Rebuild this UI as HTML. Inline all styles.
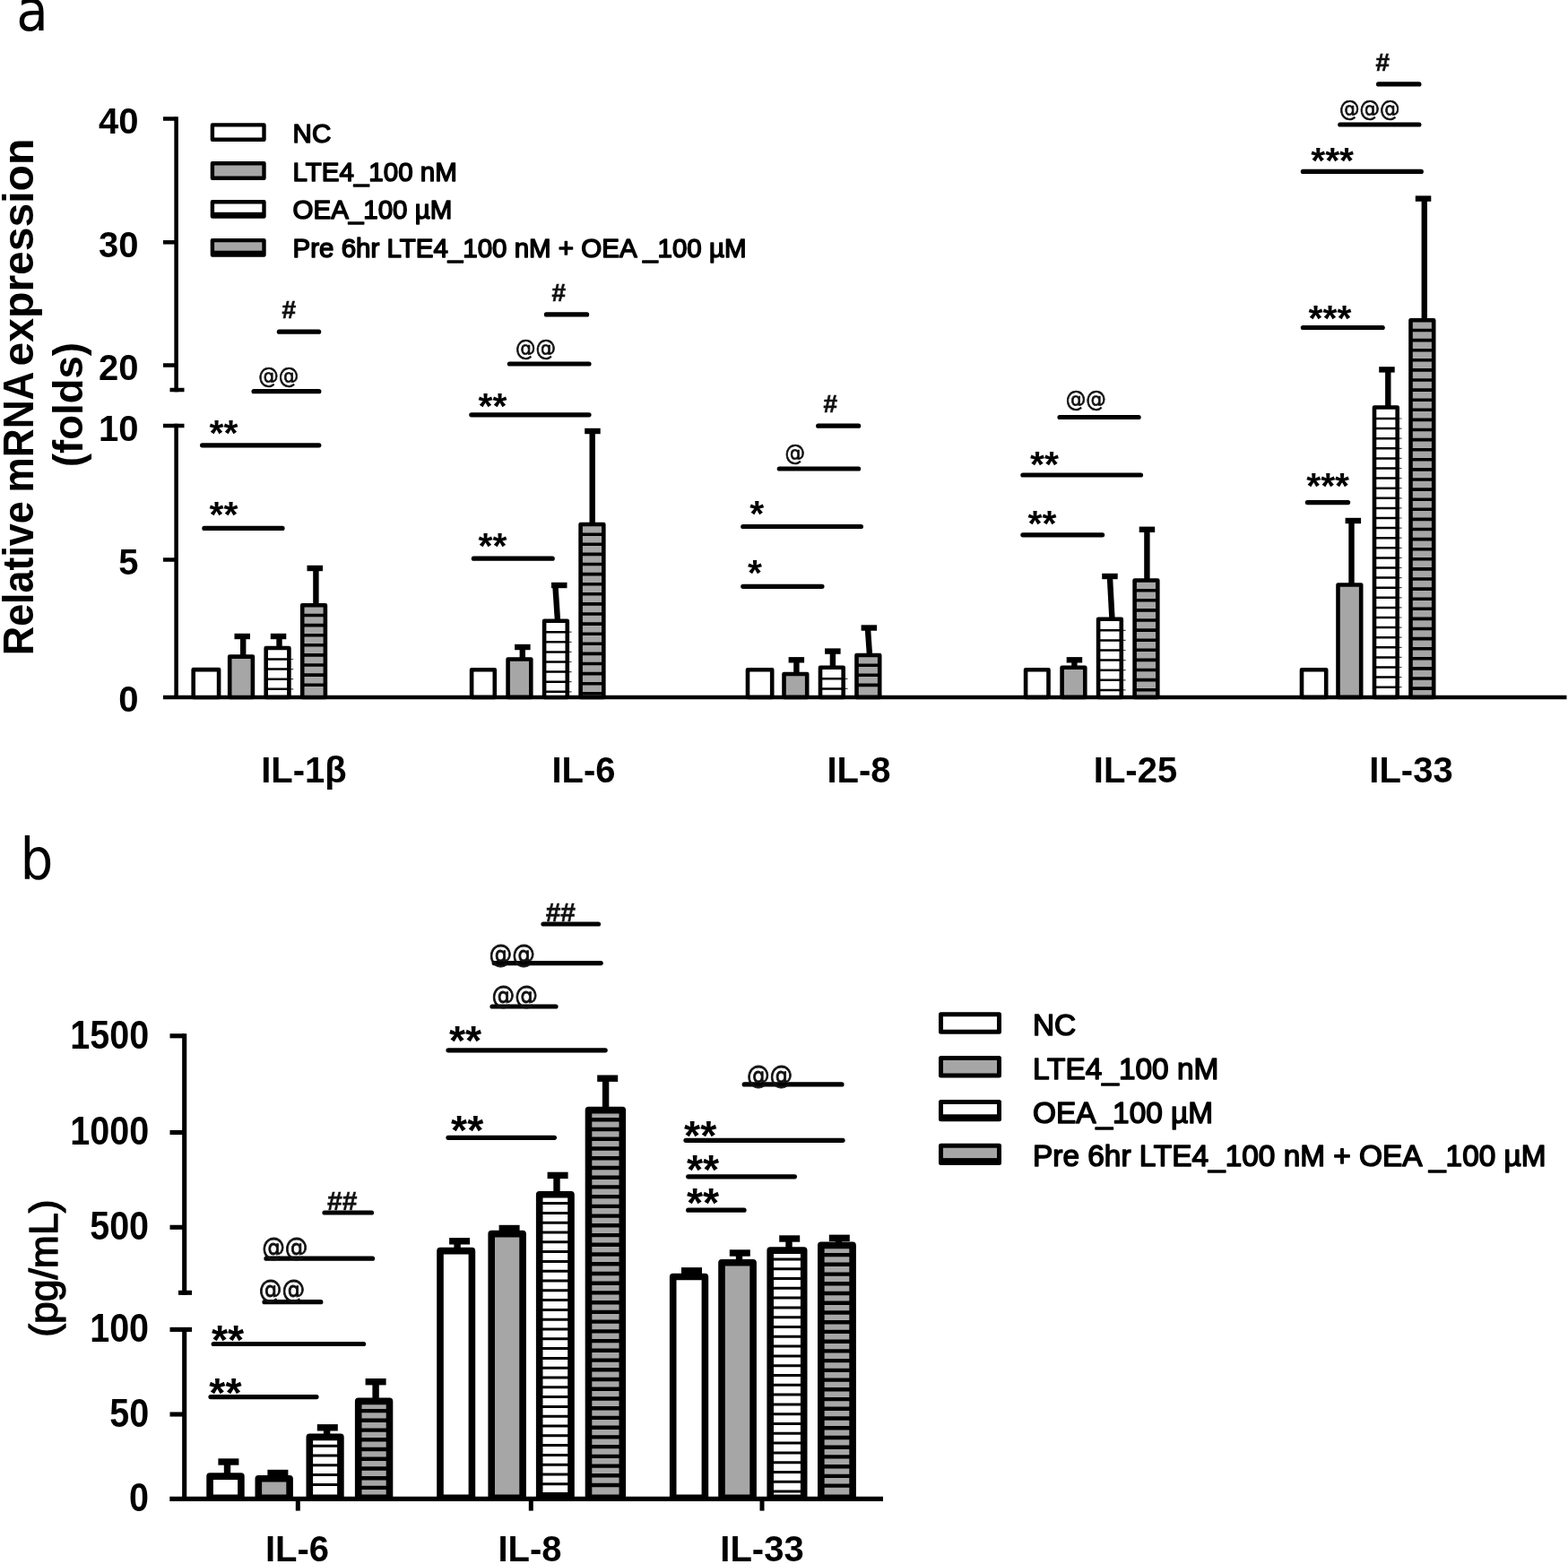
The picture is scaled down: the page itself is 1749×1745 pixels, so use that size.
<!DOCTYPE html>
<html lang="en"><head><meta charset="utf-8"><title>Figure</title>
<style>html,body{margin:0;padding:0;background:#fff;overflow:hidden}svg{display:block;filter:blur(0.7px)}</style></head>
<body>
<svg width="1749" height="1745" viewBox="0 0 1749 1745" font-family="'Liberation Sans', sans-serif" font-weight="bold" fill="#000" stroke="none">
<rect width="1749" height="1745" fill="#fff"/>
<text x="18.3" y="34" font-size="64.5" font-weight="normal" font-family="'DejaVu Sans Condensed', 'DejaVu Sans', sans-serif">a</text>
<text x="22.6" y="981.4" font-size="64.5" font-weight="normal" font-family="'DejaVu Sans Condensed', 'DejaVu Sans', sans-serif">b</text>
<g id="panel-a" stroke="#000">
<line x1="196.6" y1="130.2" x2="196.6" y2="437.2" stroke-width="4.5"/>
<line x1="196.6" y1="472.8" x2="196.6" y2="778" stroke-width="4.5"/>
<line x1="182" y1="778" x2="1747.5" y2="778" stroke-width="4.5"/>
<line x1="182" y1="132.5" x2="196.6" y2="132.5" stroke-width="4.5"/>
<line x1="182" y1="270.3" x2="196.6" y2="270.3" stroke-width="4.5"/>
<line x1="182" y1="407.5" x2="196.6" y2="407.5" stroke-width="4.5"/>
<line x1="182" y1="624.5" x2="196.6" y2="624.5" stroke-width="4.5"/>
<line x1="189.5" y1="435" x2="205.5" y2="435" stroke-width="4.5"/>
<line x1="182" y1="475" x2="205.5" y2="475" stroke-width="4.5"/>
</g>
<text x="154.5" y="149" font-size="40" text-anchor="end">40</text>
<text x="154.5" y="286.8" font-size="40" text-anchor="end">30</text>
<text x="154.5" y="424" font-size="40" text-anchor="end">20</text>
<text x="154.5" y="491.5" font-size="40" text-anchor="end">10</text>
<text x="154.5" y="641" font-size="40" text-anchor="end">5</text>
<text x="154.5" y="794" font-size="40" text-anchor="end">0</text>
<text transform="translate(36.9,731.2) rotate(-90) scale(0.934,1)" font-size="48">Relative</text>
<text transform="translate(36.9,549.5) rotate(-90) scale(0.920,1)" font-size="48">mRNA</text>
<text transform="translate(36.9,408.4) rotate(-90) scale(1.001,1)" font-size="48">expression</text>
<text transform="translate(92.4,451.6) rotate(-90)" font-size="45.5" text-anchor="middle">(folds)</text>
<rect x="236.9" y="139.4" width="57.6" height="16.4" fill="#fff" stroke="#000" stroke-width="4.4" stroke-linejoin="round"/>
<text x="326.6" y="158.6" font-size="29.5" font-weight="normal" word-spacing="0" stroke="#000" stroke-width="1.5" stroke-linejoin="round">NC</text>
<rect x="236.9" y="182.3" width="57.6" height="16.4" fill="#a6a6a6" stroke="#000" stroke-width="4.4" stroke-linejoin="round"/>
<text x="326.6" y="201.5" font-size="29.5" font-weight="normal" word-spacing="0" stroke="#000" stroke-width="1.5" stroke-linejoin="round">LTE4_100 nM</text>
<rect x="236.9" y="225.2" width="57.6" height="16.4" fill="#fff" stroke="#000" stroke-width="4.4" stroke-linejoin="round"/>
<rect x="236.9" y="236.8" width="57.6" height="4.8"/>
<text x="326.6" y="244.4" font-size="29.5" font-weight="normal" word-spacing="0" stroke="#000" stroke-width="1.5" stroke-linejoin="round">OEA_100 µM</text>
<rect x="236.9" y="268.1" width="57.6" height="16.4" fill="#a6a6a6" stroke="#000" stroke-width="4.4" stroke-linejoin="round"/>
<rect x="236.9" y="279.7" width="57.6" height="4.8"/>
<text x="326.6" y="287.3" font-size="29.5" font-weight="normal" word-spacing="0" stroke="#000" stroke-width="1.5" stroke-linejoin="round">Pre 6hr LTE4_100 nM + OEA _100 µM</text>
<g id="bars-a" stroke="#000">
<rect x="215.7" y="747.1" width="28.4" height="30.9" fill="#fff" stroke-width="4.6" stroke-linejoin="round"/>
<line x1="271.2" y1="731.3" x2="271.2" y2="710" stroke-width="6.4"/>
<line x1="261.5" y1="710" x2="279" y2="710" stroke-width="6.4"/>
<rect x="256.2" y="732.6" width="25.7" height="45.4" fill="#a6a6a6" stroke-width="4.6" stroke-linejoin="round"/>
<line x1="311.5" y1="721.7" x2="311.5" y2="710" stroke-width="6.4"/>
<line x1="301.8" y1="710" x2="319.3" y2="710" stroke-width="6.4"/>
<path d="M296.7 735.5H327.2M296.7 746.6H327.2M296.7 757.7H327.2M296.7 768.8H327.2" stroke-width="1.2" stroke="#444" fill="none"/>
<rect x="296.7" y="723" width="25.7" height="54.9" fill="#fff" stroke-width="4.6" stroke-linejoin="round"/>
<path d="M296.7 735.5H322.4M296.7 746.6H322.4M296.7 757.7H322.4M296.7 768.8H322.4" stroke-width="2.5" fill="none"/>
<line x1="352.4" y1="674" x2="352.4" y2="634" stroke-width="6.4"/>
<line x1="342.5" y1="634" x2="360" y2="634" stroke-width="6.4"/>
<rect x="337.2" y="675.3" width="25.7" height="102.7" fill="#a6a6a6" stroke-width="4.6" stroke-linejoin="round"/>
<path d="M337.2 686.5H362.9M337.2 697.6H362.9M337.2 708.7H362.9M337.2 719.8H362.9M337.2 730.9H362.9M337.2 742H362.9M337.2 753.1H362.9M337.2 764.2H362.9" stroke-width="3.6" fill="none"/>
<rect x="526.1" y="747.3" width="25.7" height="30.6" fill="#fff" stroke-width="4.6" stroke-linejoin="round"/>
<line x1="582.8" y1="734.2" x2="582.8" y2="722" stroke-width="6.4"/>
<line x1="574.1" y1="722" x2="591.6" y2="722" stroke-width="6.4"/>
<rect x="566.6" y="735.5" width="25.7" height="42.4" fill="#a6a6a6" stroke-width="4.6" stroke-linejoin="round"/>
<line x1="621.9" y1="691.4" x2="619.4" y2="653" stroke-width="6.4"/>
<line x1="615" y1="653" x2="632.5" y2="653" stroke-width="6.4"/>
<path d="M607.1 705.2H637.6M607.1 716.3H637.6M607.1 727.4H637.6M607.1 738.5H637.6M607.1 749.6H637.6M607.1 760.7H637.6M607.1 771.8H637.6" stroke-width="1.2" stroke="#444" fill="none"/>
<rect x="607.1" y="692.7" width="25.7" height="85.3" fill="#fff" stroke-width="4.6" stroke-linejoin="round"/>
<path d="M607.1 705.2H632.8M607.1 716.3H632.8M607.1 727.4H632.8M607.1 738.5H632.8M607.1 749.6H632.8M607.1 760.7H632.8M607.1 771.8H632.8" stroke-width="2.5" fill="none"/>
<line x1="660.7" y1="583.7" x2="660.7" y2="481" stroke-width="6.4"/>
<line x1="652.2" y1="481" x2="669.7" y2="481" stroke-width="6.4"/>
<rect x="647.6" y="585" width="25.7" height="192.9" fill="#a6a6a6" stroke-width="4.6" stroke-linejoin="round"/>
<path d="M647.6 596.2H673.3M647.6 607.3H673.3M647.6 618.4H673.3M647.6 629.5H673.3M647.6 640.6H673.3M647.6 651.7H673.3M647.6 662.8H673.3M647.6 673.9H673.3M647.6 685H673.3M647.6 696.1H673.3M647.6 707.2H673.3M647.6 718.3H673.3M647.6 729.4H673.3M647.6 740.5H673.3M647.6 751.6H673.3M647.6 762.7H673.3M647.6 773.8H673.3" stroke-width="3.6" fill="none"/>
<rect x="834" y="747.3" width="27.2" height="30.6" fill="#fff" stroke-width="4.6" stroke-linejoin="round"/>
<line x1="888.4" y1="750.7" x2="888.4" y2="736.3" stroke-width="6.4"/>
<line x1="879.6" y1="736.3" x2="897.1" y2="736.3" stroke-width="6.4"/>
<rect x="874.5" y="752" width="25.7" height="25.9" fill="#a6a6a6" stroke-width="4.6" stroke-linejoin="round"/>
<line x1="928.9" y1="743.5" x2="928.9" y2="726.6" stroke-width="6.4"/>
<line x1="920.1" y1="726.6" x2="937.6" y2="726.6" stroke-width="6.4"/>
<path d="M915 757.3H945.5M915 768.4H945.5" stroke-width="1.2" stroke="#444" fill="none"/>
<rect x="915" y="744.8" width="25.7" height="33.1" fill="#fff" stroke-width="4.6" stroke-linejoin="round"/>
<path d="M915 757.3H940.7M915 768.4H940.7" stroke-width="2.5" fill="none"/>
<line x1="969.9" y1="729.7" x2="967.9" y2="700.5" stroke-width="6.4"/>
<line x1="960.6" y1="700.5" x2="978.1" y2="700.5" stroke-width="6.4"/>
<rect x="955.5" y="731" width="25.7" height="46.9" fill="#a6a6a6" stroke-width="4.6" stroke-linejoin="round"/>
<path d="M955.5 742.2H981.2M955.5 753.3H981.2M955.5 764.4H981.2" stroke-width="3.6" fill="none"/>
<rect x="1144.1" y="747.3" width="25.4" height="30.6" fill="#fff" stroke-width="4.6" stroke-linejoin="round"/>
<line x1="1198.4" y1="743.5" x2="1198.4" y2="736.3" stroke-width="6.4"/>
<line x1="1189.7" y1="736.3" x2="1207.2" y2="736.3" stroke-width="6.4"/>
<rect x="1184.6" y="744.8" width="25.7" height="33.1" fill="#a6a6a6" stroke-width="4.6" stroke-linejoin="round"/>
<line x1="1240.4" y1="689.5" x2="1237.9" y2="643" stroke-width="6.4"/>
<line x1="1229.2" y1="643" x2="1246.7" y2="643" stroke-width="6.4"/>
<path d="M1225.1 703.3H1255.6M1225.1 714.4H1255.6M1225.1 725.5H1255.6M1225.1 736.6H1255.6M1225.1 747.7H1255.6M1225.1 758.8H1255.6M1225.1 769.9H1255.6" stroke-width="1.2" stroke="#444" fill="none"/>
<rect x="1225.1" y="690.8" width="25.7" height="87.2" fill="#fff" stroke-width="4.6" stroke-linejoin="round"/>
<path d="M1225.1 703.3H1250.8M1225.1 714.4H1250.8M1225.1 725.5H1250.8M1225.1 736.6H1250.8M1225.1 747.7H1250.8M1225.1 758.8H1250.8M1225.1 769.9H1250.8" stroke-width="2.5" fill="none"/>
<line x1="1279.4" y1="646.2" x2="1279.4" y2="590.8" stroke-width="6.4"/>
<line x1="1270.7" y1="590.8" x2="1288.2" y2="590.8" stroke-width="6.4"/>
<rect x="1265.6" y="647.5" width="25.7" height="130.4" fill="#a6a6a6" stroke-width="4.6" stroke-linejoin="round"/>
<path d="M1265.6 658.7H1291.3M1265.6 669.8H1291.3M1265.6 680.9H1291.3M1265.6 692H1291.3M1265.6 703.1H1291.3M1265.6 714.2H1291.3M1265.6 725.3H1291.3M1265.6 736.4H1291.3M1265.6 747.5H1291.3M1265.6 758.6H1291.3M1265.6 769.7H1291.3" stroke-width="3.6" fill="none"/>
<rect x="1452" y="747.3" width="27.2" height="30.6" fill="#fff" stroke-width="4.6" stroke-linejoin="round"/>
<line x1="1507.5" y1="651.2" x2="1507.5" y2="581" stroke-width="6.4"/>
<line x1="1500.6" y1="581" x2="1518.1" y2="581" stroke-width="6.4"/>
<rect x="1492.5" y="652.5" width="25.7" height="125.4" fill="#a6a6a6" stroke-width="4.6" stroke-linejoin="round"/>
<line x1="1548.3" y1="453.2" x2="1548.3" y2="412.4" stroke-width="6.4"/>
<line x1="1538.2" y1="412.4" x2="1555.7" y2="412.4" stroke-width="6.4"/>
<path d="M1533 467H1563.5M1533 478.1H1563.5M1533 489.2H1563.5M1533 500.3H1563.5M1533 511.4H1563.5M1533 522.5H1563.5M1533 533.6H1563.5M1533 544.7H1563.5M1533 555.8H1563.5M1533 566.9H1563.5M1533 578H1563.5M1533 589.1H1563.5M1533 600.2H1563.5M1533 611.3H1563.5M1533 622.4H1563.5M1533 633.5H1563.5M1533 644.6H1563.5M1533 655.7H1563.5M1533 666.8H1563.5M1533 677.9H1563.5M1533 689H1563.5M1533 700.1H1563.5M1533 711.2H1563.5M1533 722.3H1563.5M1533 733.4H1563.5M1533 744.5H1563.5M1533 755.6H1563.5M1533 766.7H1563.5" stroke-width="1.2" stroke="#444" fill="none"/>
<rect x="1533" y="454.5" width="25.7" height="323.4" fill="#fff" stroke-width="4.6" stroke-linejoin="round"/>
<path d="M1533 467H1558.7M1533 478.1H1558.7M1533 489.2H1558.7M1533 500.3H1558.7M1533 511.4H1558.7M1533 522.5H1558.7M1533 533.6H1558.7M1533 544.7H1558.7M1533 555.8H1558.7M1533 566.9H1558.7M1533 578H1558.7M1533 589.1H1558.7M1533 600.2H1558.7M1533 611.3H1558.7M1533 622.4H1558.7M1533 633.5H1558.7M1533 644.6H1558.7M1533 655.7H1558.7M1533 666.8H1558.7M1533 677.9H1558.7M1533 689H1558.7M1533 700.1H1558.7M1533 711.2H1558.7M1533 722.3H1558.7M1533 733.4H1558.7M1533 744.5H1558.7M1533 755.6H1558.7M1533 766.7H1558.7" stroke-width="2.5" fill="none"/>
<line x1="1588.8" y1="356" x2="1588.8" y2="221.6" stroke-width="6.4"/>
<line x1="1578.8" y1="221.6" x2="1596.3" y2="221.6" stroke-width="6.4"/>
<rect x="1573.5" y="357.3" width="25.7" height="420.6" fill="#a6a6a6" stroke-width="4.6" stroke-linejoin="round"/>
<path d="M1573.5 368.5H1599.2M1573.5 379.6H1599.2M1573.5 390.7H1599.2M1573.5 401.8H1599.2M1573.5 412.9H1599.2M1573.5 424H1599.2M1573.5 435.1H1599.2M1573.5 446.2H1599.2M1573.5 457.3H1599.2M1573.5 468.4H1599.2M1573.5 479.5H1599.2M1573.5 490.6H1599.2M1573.5 501.7H1599.2M1573.5 512.8H1599.2M1573.5 523.9H1599.2M1573.5 535H1599.2M1573.5 546.1H1599.2M1573.5 557.2H1599.2M1573.5 568.3H1599.2M1573.5 579.4H1599.2M1573.5 590.5H1599.2M1573.5 601.6H1599.2M1573.5 612.7H1599.2M1573.5 623.8H1599.2M1573.5 634.9H1599.2M1573.5 646H1599.2M1573.5 657.1H1599.2M1573.5 668.2H1599.2M1573.5 679.3H1599.2M1573.5 690.4H1599.2M1573.5 701.5H1599.2M1573.5 712.6H1599.2M1573.5 723.7H1599.2M1573.5 734.8H1599.2M1573.5 745.9H1599.2M1573.5 757H1599.2M1573.5 768.1H1599.2" stroke-width="3.6" fill="none"/>
</g>
<text x="339" y="873.2" font-size="40" text-anchor="middle">IL-1β</text>
<text x="651" y="873.2" font-size="40" text-anchor="middle">IL-6</text>
<text x="958" y="873.2" font-size="40" text-anchor="middle">IL-8</text>
<text x="1266.5" y="873.2" font-size="40" text-anchor="middle">IL-25</text>
<text x="1574" y="873.2" font-size="40" text-anchor="middle">IL-33</text>
<line x1="311.4" y1="370.2" x2="355.6" y2="370.2" stroke="#000" stroke-width="5.2" stroke-linecap="round"/>
<text x="314.5" y="355" font-size="28" fill="#111" stroke="#111" stroke-width="0.7">#</text>
<line x1="283.1" y1="436.7" x2="355.8" y2="436.7" stroke="#000" stroke-width="5.2" stroke-linecap="round"/>
<text x="288.3" y="427.7" font-size="25" font-weight="normal" fill="#111" font-family="'DejaVu Sans Condensed', 'DejaVu Sans', sans-serif" stroke="#111" stroke-width="0.7">@@</text>
<line x1="225.6" y1="496.8" x2="355.8" y2="496.8" stroke="#000" stroke-width="5.2" stroke-linecap="round"/>
<text x="233.5" y="496.6" font-size="41">**</text>
<line x1="227.9" y1="589.4" x2="315" y2="589.4" stroke="#000" stroke-width="5.2" stroke-linecap="round"/>
<text x="233.5" y="588.4" font-size="41">**</text>
<line x1="609.4" y1="350.9" x2="654.6" y2="350.9" stroke="#000" stroke-width="5.2" stroke-linecap="round"/>
<text x="615.5" y="335.7" font-size="28" fill="#111" stroke="#111" stroke-width="0.7">#</text>
<line x1="568.4" y1="406" x2="657" y2="406" stroke="#000" stroke-width="5.2" stroke-linecap="round"/>
<text x="575" y="397" font-size="25" font-weight="normal" fill="#111" font-family="'DejaVu Sans Condensed', 'DejaVu Sans', sans-serif" stroke="#111" stroke-width="0.7">@@</text>
<line x1="525.8" y1="462.8" x2="657" y2="462.8" stroke="#000" stroke-width="5.2" stroke-linecap="round"/>
<text x="533.6" y="467" font-size="41">**</text>
<line x1="528.4" y1="623.2" x2="616.2" y2="623.2" stroke="#000" stroke-width="5.2" stroke-linecap="round"/>
<text x="533.6" y="622.6" font-size="41">**</text>
<line x1="912.7" y1="475.2" x2="957.6" y2="475.2" stroke="#000" stroke-width="5.2" stroke-linecap="round"/>
<text x="918.5" y="460" font-size="28" fill="#111" stroke="#111" stroke-width="0.7">#</text>
<line x1="869.3" y1="523" x2="957.6" y2="523" stroke="#000" stroke-width="5.2" stroke-linecap="round"/>
<text x="875.5" y="514" font-size="25" font-weight="normal" fill="#111" font-family="'DejaVu Sans Condensed', 'DejaVu Sans', sans-serif" stroke="#111" stroke-width="0.7">@</text>
<line x1="828.8" y1="587.5" x2="960.4" y2="587.5" stroke="#000" stroke-width="5.2" stroke-linecap="round"/>
<text x="836.2" y="586.9" font-size="41">*</text>
<line x1="828.8" y1="654.3" x2="916.9" y2="654.3" stroke="#000" stroke-width="5.2" stroke-linecap="round"/>
<text x="834" y="653.3" font-size="41">*</text>
<line x1="1182" y1="465.5" x2="1270.1" y2="465.5" stroke="#000" stroke-width="5.2" stroke-linecap="round"/>
<text x="1188.7" y="453.5" font-size="25" font-weight="normal" fill="#111" font-family="'DejaVu Sans Condensed', 'DejaVu Sans', sans-serif" stroke="#111" stroke-width="0.7">@@</text>
<line x1="1140.9" y1="530" x2="1272.5" y2="530" stroke="#000" stroke-width="5.2" stroke-linecap="round"/>
<text x="1149.1" y="531.7" font-size="41">**</text>
<line x1="1140.9" y1="596.8" x2="1229.6" y2="596.8" stroke="#000" stroke-width="5.2" stroke-linecap="round"/>
<text x="1146.5" y="597.7" font-size="41">**</text>
<line x1="1537.6" y1="93.9" x2="1582.9" y2="93.9" stroke="#000" stroke-width="5.2" stroke-linecap="round"/>
<text x="1534.5" y="78.7" font-size="28" fill="#111" stroke="#111" stroke-width="0.7">#</text>
<line x1="1494.8" y1="139" x2="1582.9" y2="139" stroke="#000" stroke-width="5.2" stroke-linecap="round"/>
<text x="1494" y="130" font-size="25" font-weight="normal" fill="#111" font-family="'DejaVu Sans Condensed', 'DejaVu Sans', sans-serif" stroke="#111" stroke-width="0.7">@@@</text>
<line x1="1453.4" y1="191.4" x2="1585.3" y2="191.4" stroke="#000" stroke-width="5.2" stroke-linecap="round"/>
<text x="1462.2" y="192.9" font-size="41">***</text>
<line x1="1453.4" y1="365.5" x2="1542.2" y2="365.5" stroke="#000" stroke-width="5.2" stroke-linecap="round"/>
<text x="1459.5" y="368.9" font-size="41">***</text>
<line x1="1458.4" y1="560.6" x2="1503.6" y2="560.6" stroke="#000" stroke-width="5.2" stroke-linecap="round"/>
<text x="1457.2" y="555.9" font-size="41">***</text>
<g id="panel-b" stroke="#000">
<line x1="205.7" y1="1153.2" x2="205.7" y2="1444.8" stroke-width="5.1"/>
<line x1="205.7" y1="1480.9" x2="205.7" y2="1672.4" stroke-width="5.1"/>
<line x1="189.3" y1="1672.4" x2="985" y2="1672.4" stroke-width="5.4"/>
<line x1="189.5" y1="1155.8" x2="205.7" y2="1155.8" stroke-width="5.1"/>
<line x1="189.5" y1="1263.5" x2="205.7" y2="1263.5" stroke-width="5.1"/>
<line x1="189.5" y1="1369.3" x2="205.7" y2="1369.3" stroke-width="5.1"/>
<line x1="189.5" y1="1578" x2="205.7" y2="1578" stroke-width="5.1"/>
<line x1="199" y1="1442.3" x2="214" y2="1442.3" stroke-width="5.1"/>
<line x1="189.5" y1="1483.4" x2="214" y2="1483.4" stroke-width="5.1"/>
<line x1="332.3" y1="1672.4" x2="332.3" y2="1685.6" stroke-width="5"/>
<line x1="592.3" y1="1672.4" x2="592.3" y2="1685.6" stroke-width="5"/>
<line x1="850" y1="1672.4" x2="850" y2="1685.6" stroke-width="5"/>
</g>
<text transform="translate(166.1,1169.7) scale(0.89,1)" font-size="44.4" text-anchor="end">1500</text>
<text transform="translate(166.1,1277.4) scale(0.89,1)" font-size="44.4" text-anchor="end">1000</text>
<text transform="translate(166.1,1383.2) scale(0.89,1)" font-size="44.4" text-anchor="end">500</text>
<text transform="translate(166.1,1497.3) scale(0.89,1)" font-size="44.4" text-anchor="end">100</text>
<text transform="translate(166.1,1591.9) scale(0.89,1)" font-size="44.4" text-anchor="end">50</text>
<text transform="translate(166.1,1686.3) scale(0.89,1)" font-size="44.4" text-anchor="end">0</text>
<text transform="translate(64.4,1415.2) rotate(-90)" font-size="44.5" font-weight="normal" text-anchor="middle" stroke="#000" stroke-width="1.3" stroke-linejoin="round">(pg/mL)</text>
<text x="331.5" y="1742.3" font-size="40" text-anchor="middle">IL-6</text>
<text x="591" y="1742.3" font-size="40" text-anchor="middle">IL-8</text>
<text x="850" y="1742.3" font-size="40" text-anchor="middle">IL-33</text>
<rect x="1049.5" y="1131.8" width="65" height="19.4" fill="#fff" stroke="#000" stroke-width="5" stroke-linejoin="round"/>
<text x="1152" y="1154.9" font-size="33.4" font-weight="normal" word-spacing="0" stroke="#000" stroke-width="1.5" stroke-linejoin="round">NC</text>
<rect x="1049.5" y="1180.6" width="65" height="19.4" fill="#a6a6a6" stroke="#000" stroke-width="5" stroke-linejoin="round"/>
<text x="1152" y="1203.7" font-size="33.4" font-weight="normal" word-spacing="0" stroke="#000" stroke-width="1.5" stroke-linejoin="round">LTE4_100 nM</text>
<rect x="1049.5" y="1229.4" width="65" height="19.4" fill="#fff" stroke="#000" stroke-width="5" stroke-linejoin="round"/>
<rect x="1049.5" y="1243.3" width="65" height="5.5"/>
<text x="1152" y="1252.5" font-size="33.4" font-weight="normal" word-spacing="0" stroke="#000" stroke-width="1.5" stroke-linejoin="round">OEA_100 µM</text>
<rect x="1049.5" y="1278.2" width="65" height="19.4" fill="#a6a6a6" stroke="#000" stroke-width="5" stroke-linejoin="round"/>
<rect x="1049.5" y="1292.1" width="65" height="5.5"/>
<text x="1152" y="1301.3" font-size="33.4" font-weight="normal" word-spacing="0" stroke="#000" stroke-width="1.5" stroke-linejoin="round">Pre 6hr LTE4_100 nM + OEA _100 µM</text>
<g id="bars-b" stroke="#000">
<line x1="253.5" y1="1644.3" x2="253.5" y2="1631" stroke-width="7.4"/>
<line x1="243.4" y1="1631" x2="266.4" y2="1631" stroke-width="7.4"/>
<rect x="234.1" y="1647.1" width="34.8" height="24.2" fill="#fff" stroke-width="7.6" stroke-linejoin="round"/>
<line x1="308.7" y1="1647" x2="308.7" y2="1643.5" stroke-width="7.4"/>
<line x1="298.4" y1="1643.5" x2="321.4" y2="1643.5" stroke-width="7.4"/>
<rect x="288.3" y="1649.8" width="34.8" height="21.5" fill="#a6a6a6" stroke-width="7.6" stroke-linejoin="round"/>
<line x1="364.6" y1="1600.6" x2="364.6" y2="1592.8" stroke-width="7.4"/>
<line x1="353.8" y1="1592.8" x2="376.8" y2="1592.8" stroke-width="7.4"/>
<rect x="345.3" y="1603.4" width="34.6" height="67.9" fill="#fff" stroke-width="7.6" stroke-linejoin="round"/>
<path d="M345.3 1613.2H379.9M345.3 1624H379.9M345.3 1634.8H379.9M345.3 1645.6H379.9M345.3 1656.4H379.9" stroke-width="3" fill="none"/>
<line x1="419.1" y1="1560.6" x2="419.1" y2="1541.7" stroke-width="7.4"/>
<line x1="407.6" y1="1541.7" x2="430.6" y2="1541.7" stroke-width="7.4"/>
<rect x="399.7" y="1563.4" width="34.8" height="107.9" fill="#a6a6a6" stroke-width="7.6" stroke-linejoin="round"/>
<path d="M399.7 1574.1H434.5M399.7 1584.8H434.5M399.7 1595.6H434.5M399.7 1606.3H434.5M399.7 1617H434.5M399.7 1627.8H434.5M399.7 1638.5H434.5M399.7 1649.2H434.5M399.7 1659.9H434.5" stroke-width="4.4" fill="none"/>
<line x1="510.1" y1="1392.8" x2="510.1" y2="1384.8" stroke-width="7.4"/>
<line x1="501.1" y1="1384.8" x2="524.1" y2="1384.8" stroke-width="7.4"/>
<rect x="491" y="1395.6" width="35.4" height="275.7" fill="#fff" stroke-width="7.6" stroke-linejoin="round"/>
<line x1="567.6" y1="1373.8" x2="567.6" y2="1370.5" stroke-width="7.4"/>
<line x1="556.6" y1="1370.5" x2="579.6" y2="1370.5" stroke-width="7.4"/>
<rect x="548.2" y="1376.6" width="34.9" height="294.7" fill="#a6a6a6" stroke-width="7.6" stroke-linejoin="round"/>
<line x1="621" y1="1330" x2="621" y2="1311.4" stroke-width="7.4"/>
<line x1="610.6" y1="1311.4" x2="633.6" y2="1311.4" stroke-width="7.4"/>
<rect x="601.7" y="1332.8" width="35.3" height="338.5" fill="#fff" stroke-width="7.6" stroke-linejoin="round"/>
<path d="M601.7 1342.6H637M601.7 1353.4H637M601.7 1364.2H637M601.7 1375H637M601.7 1385.8H637M601.7 1396.6H637M601.7 1407.4H637M601.7 1418.2H637M601.7 1429H637M601.7 1439.8H637M601.7 1450.6H637M601.7 1461.4H637M601.7 1472.2H637M601.7 1483H637M601.7 1493.8H637M601.7 1504.6H637M601.7 1515.4H637M601.7 1526.2H637M601.7 1537H637M601.7 1547.8H637M601.7 1558.6H637M601.7 1569.4H637M601.7 1580.2H637M601.7 1591H637M601.7 1601.8H637M601.7 1612.6H637M601.7 1623.4H637M601.7 1634.2H637M601.7 1645H637M601.7 1655.8H637M601.7 1666.6H637" stroke-width="3" fill="none"/>
<line x1="675.6" y1="1235.8" x2="675.6" y2="1203.2" stroke-width="7.4"/>
<line x1="666.2" y1="1203.2" x2="689.2" y2="1203.2" stroke-width="7.4"/>
<rect x="656.5" y="1238.6" width="37.8" height="432.7" fill="#a6a6a6" stroke-width="7.6" stroke-linejoin="round"/>
<path d="M656.5 1249.3H694.3M656.5 1260H694.3M656.5 1270.8H694.3M656.5 1281.5H694.3M656.5 1292.2H694.3M656.5 1303H694.3M656.5 1313.7H694.3M656.5 1324.4H694.3M656.5 1335.1H694.3M656.5 1345.9H694.3M656.5 1356.6H694.3M656.5 1367.3H694.3M656.5 1378.1H694.3M656.5 1388.8H694.3M656.5 1399.5H694.3M656.5 1410.3H694.3M656.5 1421H694.3M656.5 1431.7H694.3M656.5 1442.4H694.3M656.5 1453.2H694.3M656.5 1463.9H694.3M656.5 1474.6H694.3M656.5 1485.4H694.3M656.5 1496.1H694.3M656.5 1506.8H694.3M656.5 1517.6H694.3M656.5 1528.3H694.3M656.5 1539H694.3M656.5 1549.7H694.3M656.5 1560.5H694.3M656.5 1571.2H694.3M656.5 1581.9H694.3M656.5 1592.7H694.3M656.5 1603.4H694.3M656.5 1614.1H694.3M656.5 1624.9H694.3M656.5 1635.6H694.3M656.5 1646.3H694.3M656.5 1657H694.3" stroke-width="4.4" fill="none"/>
<line x1="770.5" y1="1421.7" x2="770.5" y2="1417.8" stroke-width="7.4"/>
<line x1="760" y1="1417.8" x2="783" y2="1417.8" stroke-width="7.4"/>
<rect x="750.7" y="1424.5" width="35.7" height="246.8" fill="#fff" stroke-width="7.6" stroke-linejoin="round"/>
<line x1="824.5" y1="1406" x2="824.5" y2="1398" stroke-width="7.4"/>
<line x1="813.8" y1="1398" x2="836.8" y2="1398" stroke-width="7.4"/>
<rect x="805" y="1408.8" width="35.1" height="262.5" fill="#a6a6a6" stroke-width="7.6" stroke-linejoin="round"/>
<line x1="880" y1="1392.3" x2="880" y2="1382" stroke-width="7.4"/>
<line x1="869.2" y1="1382" x2="892.2" y2="1382" stroke-width="7.4"/>
<rect x="859.2" y="1395.1" width="37.5" height="276.2" fill="#fff" stroke-width="7.6" stroke-linejoin="round"/>
<path d="M859.2 1404.9H896.7M859.2 1415.7H896.7M859.2 1426.5H896.7M859.2 1437.3H896.7M859.2 1448.1H896.7M859.2 1458.9H896.7M859.2 1469.7H896.7M859.2 1480.5H896.7M859.2 1491.3H896.7M859.2 1502.1H896.7M859.2 1512.9H896.7M859.2 1523.7H896.7M859.2 1534.5H896.7M859.2 1545.3H896.7M859.2 1556.1H896.7M859.2 1566.9H896.7M859.2 1577.7H896.7M859.2 1588.5H896.7M859.2 1599.3H896.7M859.2 1610.1H896.7M859.2 1620.9H896.7M859.2 1631.7H896.7M859.2 1642.5H896.7M859.2 1653.3H896.7M859.2 1664.1H896.7" stroke-width="3" fill="none"/>
<line x1="935.5" y1="1386.6" x2="935.5" y2="1381.3" stroke-width="7.4"/>
<line x1="924.8" y1="1381.3" x2="947.8" y2="1381.3" stroke-width="7.4"/>
<rect x="915.8" y="1389.4" width="35.3" height="281.9" fill="#a6a6a6" stroke-width="7.6" stroke-linejoin="round"/>
<path d="M915.8 1400.1H951.1M915.8 1410.8H951.1M915.8 1421.6H951.1M915.8 1432.3H951.1M915.8 1443H951.1M915.8 1453.8H951.1M915.8 1464.5H951.1M915.8 1475.2H951.1M915.8 1485.9H951.1M915.8 1496.7H951.1M915.8 1507.4H951.1M915.8 1518.1H951.1M915.8 1528.9H951.1M915.8 1539.6H951.1M915.8 1550.3H951.1M915.8 1561.1H951.1M915.8 1571.8H951.1M915.8 1582.5H951.1M915.8 1593.2H951.1M915.8 1604H951.1M915.8 1614.7H951.1M915.8 1625.4H951.1M915.8 1636.2H951.1M915.8 1646.9H951.1M915.8 1657.6H951.1" stroke-width="4.4" fill="none"/>
</g>
<line x1="362" y1="1353" x2="414.5" y2="1353" stroke="#000" stroke-width="5.2" stroke-linecap="round"/>
<text x="365" y="1350" font-size="30" fill="#111" stroke="#111" stroke-width="0.5">##</text>
<line x1="297" y1="1404.2" x2="415.5" y2="1404.2" stroke="#000" stroke-width="5.2" stroke-linecap="round"/>
<text x="292.2" y="1400.7" font-size="28.5" font-weight="normal" fill="#111" font-family="'DejaVu Sans Condensed', 'DejaVu Sans', sans-serif" stroke="#111" stroke-width="0.8">@@</text>
<line x1="295" y1="1452.7" x2="357.8" y2="1452.7" stroke="#000" stroke-width="5.2" stroke-linecap="round"/>
<text x="288.8" y="1447.8" font-size="28.5" font-weight="normal" fill="#111" font-family="'DejaVu Sans Condensed', 'DejaVu Sans', sans-serif" stroke="#111" stroke-width="0.8">@@</text>
<line x1="238.2" y1="1499.5" x2="405.6" y2="1499.5" stroke="#000" stroke-width="5.2" stroke-linecap="round"/>
<text x="235.9" y="1510.6" font-size="46.5">**</text>
<line x1="235" y1="1558.6" x2="353" y2="1558.6" stroke="#000" stroke-width="5.2" stroke-linecap="round"/>
<text x="233.3" y="1569.8" font-size="46.5">**</text>
<line x1="606" y1="1031" x2="667.5" y2="1031" stroke="#000" stroke-width="5.2" stroke-linecap="round"/>
<text x="608.7" y="1028" font-size="30" fill="#111" stroke="#111" stroke-width="0.5">##</text>
<line x1="551.2" y1="1074.6" x2="670.2" y2="1074.6" stroke="#000" stroke-width="5.2" stroke-linecap="round"/>
<text x="545.6" y="1074.3" font-size="28.5" font-weight="normal" fill="#111" font-family="'DejaVu Sans Condensed', 'DejaVu Sans', sans-serif" stroke="#111" stroke-width="0.8">@@</text>
<line x1="549" y1="1123" x2="620" y2="1123" stroke="#000" stroke-width="5.2" stroke-linecap="round"/>
<text x="548.5" y="1120.2" font-size="28.5" font-weight="normal" fill="#111" font-family="'DejaVu Sans Condensed', 'DejaVu Sans', sans-serif" stroke="#111" stroke-width="0.8">@@</text>
<line x1="500" y1="1171.8" x2="675.2" y2="1171.8" stroke="#000" stroke-width="5.2" stroke-linecap="round"/>
<text x="500.9" y="1177.4" font-size="46.5">**</text>
<line x1="500" y1="1269.3" x2="618.4" y2="1269.3" stroke="#000" stroke-width="5.2" stroke-linecap="round"/>
<text x="503.1" y="1277" font-size="46.5">**</text>
<line x1="830.2" y1="1209.9" x2="939" y2="1209.9" stroke="#000" stroke-width="5.2" stroke-linecap="round"/>
<text x="832.9" y="1209.2" font-size="28.5" font-weight="normal" fill="#111" font-family="'DejaVu Sans Condensed', 'DejaVu Sans', sans-serif" stroke="#111" stroke-width="0.8">@@</text>
<line x1="765" y1="1272.3" x2="940" y2="1272.3" stroke="#000" stroke-width="5.2" stroke-linecap="round"/>
<text x="763.1" y="1283.2" font-size="46.5">**</text>
<line x1="767.7" y1="1312.8" x2="886.4" y2="1312.8" stroke="#000" stroke-width="5.2" stroke-linecap="round"/>
<text x="765.9" y="1321" font-size="46.5">**</text>
<line x1="767.7" y1="1350.2" x2="830" y2="1350.2" stroke="#000" stroke-width="5.2" stroke-linecap="round"/>
<text x="765.9" y="1357.6" font-size="46.5">**</text>
</svg>
</body></html>
